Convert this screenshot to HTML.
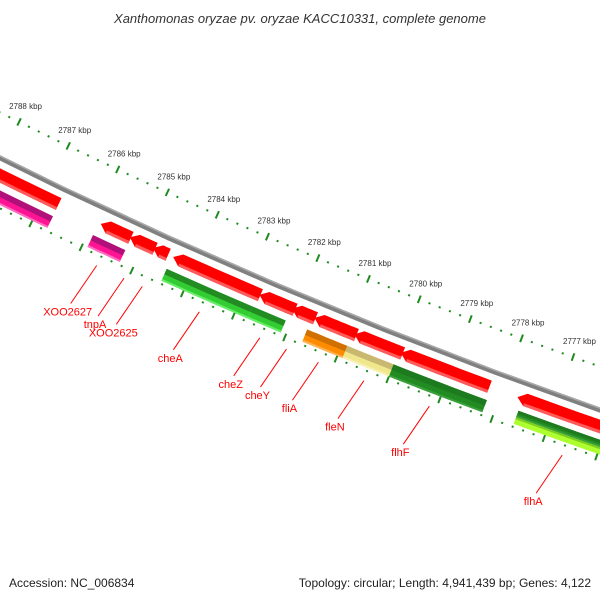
<!DOCTYPE html>
<html><head><meta charset="utf-8"><style>
body{margin:0;background:#fff}
svg{display:block;font-family:"Liberation Sans",sans-serif}
</style></head><body>
<svg id="map" width="600" height="600" viewBox="0 0 600 600" xmlns="http://www.w3.org/2000/svg">
<rect width="600" height="600" fill="#fff"/>
<text x="300" y="23" text-anchor="middle" font-size="13" font-style="italic" fill="#333">Xanthomonas oryzae pv. oryzae KACC10331, complete genome</text>
<text x="9" y="587" font-size="12" fill="#222">Accession: NC_006834</text>
<text x="591" y="587" text-anchor="end" font-size="12" fill="#222">Topology: circular; Length: 4,941,439 bp; Genes: 4,122</text>
<g id="layer"></g>
</svg>
<script>
const tickKbp = [2777,2778,2779,2780,2781,2782,2783,2784,2785,2786,2787,2788,2789];
const tickLabels = ["2777 kbp","2778 kbp","2779 kbp","2780 kbp","2781 kbp","2782 kbp","2783 kbp","2784 kbp","2785 kbp","2786 kbp","2787 kbp","2788 kbp","2789 kbp"];
const fwdStart = [2790.0,2785.86,2785.28,2784.82,2784.42,2782.72,2782.08,2781.64,2780.86,2779.96,2777.70];
const fwdEnd   = [2786.70,2785.26,2784.78,2784.52,2782.70,2782.02,2781.62,2780.82,2779.92,2778.24,2775.0];
const revStart = [2790.0,2785.90,2784.44,2782.75,2781.68,2780.90,2780.00,2777.60];
const revEnd   = [2786.70,2785.26,2782.75,2782.10,2780.86,2779.96,2778.20,2775.0];
const revType  = ["pink","pink","green","green","orange","khaki","dkgreen","dkgreen"];
const subStart = [2777.60];
const subEnd   = [2775.0];
const geneNames = ["XOO2627","tnpA","XOO2625","cheA","cheZ","cheY","fliA","fleN","flhF","flhA"];
const geneKbp   = [2785.61,2785.07,2784.71,2783.59,2782.41,2781.89,2781.27,2780.39,2779.13,2776.59];

const CX=2335, CY=-4564, R0=5227, PHI0=116.3, K=0.6;
function ang(p){return (PHI0+(p-2788)*K)*Math.PI/180;}
function pt(p,d){const a=ang(p),r=R0+d;return [CX+r*Math.cos(a),CY+r*Math.sin(a)];}
const NS="http://www.w3.org/2000/svg";
const layer=document.getElementById('layer');
function mk(tag,attrs){const e=document.createElementNS(NS,tag);for(const k in attrs)e.setAttribute(k,attrs[k]);layer.appendChild(e);return e;}
function band(p0,p1,d0,d1){const pts=[];const n=8;
 for(let i=0;i<=n;i++){pts.push(pt(p0+(p1-p0)*i/n,d0));}
 for(let i=n;i>=0;i--){pts.push(pt(p0+(p1-p0)*i/n,d1));}
 return pts.map(q=>q[0].toFixed(1)+','+q[1].toFixed(1)).join(' ');}
function arrow(p0,p1,d0,d1){const h=0.15;const pts=[pt(p0,(d0+d1)/2)];const n=8;const a=p0-h;
 for(let i=0;i<=n;i++)pts.push(pt(a+(p1-a)*i/n,d0));
 for(let i=n;i>=0;i--)pts.push(pt(a+(p1-a)*i/n,d1));
 return pts.map(q=>q[0].toFixed(1)+','+q[1].toFixed(1)).join(' ');}

// tick rings
const ringD=[0,86];
ringD.forEach((d,ri)=>{
 for(let p=2790;p>=2774.99;p-=0.2){
  const isMaj=Math.abs(p-Math.round(p))<0.01;
  const a=pt(p,d-(isMaj?4:1)),b=pt(p,d+(isMaj?4:1));
  const l=mk('line',{x1:a[0],y1:a[1],x2:b[0],y2:b[1],stroke:'#1f8a1f','stroke-width':2});
  
  
 }
});
tickKbp.forEach((p,i)=>{
 const q=pt(p,0);
 const t=mk('text',{x:q[0]-10,y:q[1]-13,'font-size':8,fill:'#333'});
 t.textContent=tickLabels[i];
 
 
});
// backbone
const bb=mk('polygon',{points:band(2791,2774,38.5,43.5),fill:'#808080'});


const bb2=mk('polygon',{points:band(2791,2774,38.5,40),fill:'#a8a8a8'});


// forward features
fwdStart.forEach((s,i)=>{
 const e=fwdEnd[i];
 const f=mk('polygon',{points:arrow(s,e,50,63),fill:'#ff0000'});
 
 
 const g=mk('polygon',{points:band(s-0.15,e,60,63),fill:'#ff5a5a'});
 
 
});
const colors={pink:['#b0107a','#ff1493','#ff6ec0'],green:['#228b22','#33cc33','#66ee66'],orange:['#d07000','#ff8c00','#ffb050'],khaki:['#c8b870','#f0e68c','#f8f0b0'],dkgreen:['#1e7a1e','#228b22','#3aa03a']};
revStart.forEach((s,i)=>{
 const e=revEnd[i],c=colors[revType[i]];
 const top=revType[i]==='dkgreen'&&s<2778?69:70, bot=revType[i]==='dkgreen'&&s<2778?76:83;
 const f=mk('polygon',{points:band(s,e,top,bot),fill:c[1]});
 
 
 const g=mk('polygon',{points:band(s,e,top,top+(bot-top)*0.45),fill:c[0]});
 
 
 const h=mk('polygon',{points:band(s,e,bot-2,bot),fill:c[2]});
 
 
});
subStart.forEach((s,i)=>{
 const f=mk('polygon',{points:band(s,subEnd[i],76,83),fill:'#adff2f'});
 
 
 const g=mk('polygon',{points:band(s,subEnd[i],76,78),fill:'#7ccd20'});
 
 
});
// labels
geneNames.forEach((n,i)=>{
 const a=pt(geneKbp[i],96);
 const bx=a[0]-26,by=a[1]+38;
 const l=mk('line',{x1:a[0],y1:a[1],x2:bx,y2:by,stroke:'#ff0000','stroke-width':1});
 
 
 const t=mk('text',{x:bx-3,y:by+12,'text-anchor':'middle','font-size':11,fill:'#ff0000'});
 t.textContent=n;
 
 
});
</script>
</body></html>
